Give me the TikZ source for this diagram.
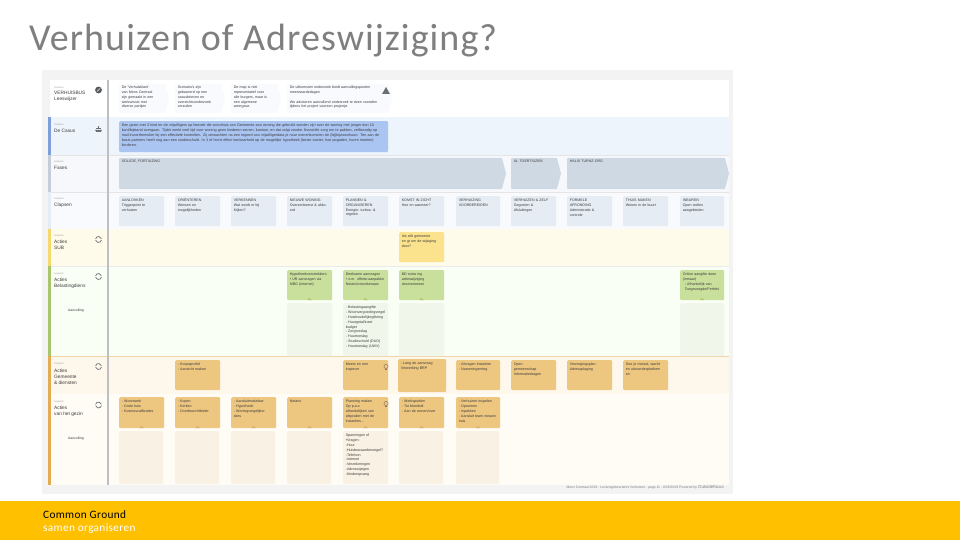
\documentclass[tikz,border=0pt]{standalone}
\usepackage{fontspec}
\setmainfont{Liberation Sans}
\newfontfamily\titlefont[LetterSpace=2.8]{Carlito}
\newfontfamily\brandfont[LetterSpace=3]{Carlito}
\definecolor{panel}{HTML}{F3F3F3}
\definecolor{rowcase}{HTML}{EDF4FC}
\definecolor{rowfase}{HTML}{F6F8FB}
\definecolor{rowclap}{HTML}{F8FAFD}
\definecolor{rowsub}{HTML}{FFFBEA}
\definecolor{rowgreen}{HTML}{FAFFF6}
\definecolor{rowgem}{HTML}{FEF8EC}
\definecolor{rowbur}{HTML}{FFFBF5}
\definecolor{casebox}{HTML}{ABC5F2}
\definecolor{phase}{HTML}{CFD9E4}
\definecolor{clap}{HTML}{E5ECF4}
\definecolor{subcard}{HTML}{FBE28C}
\definecolor{greencard}{HTML}{C9DF9C}
\definecolor{greensub}{HTML}{F0F7EA}
\definecolor{orangecard}{HTML}{EDC680}
\definecolor{orangesub}{HTML}{F9F1E3}
\definecolor{band}{HTML}{FFC000}
\definecolor{titlegray}{HTML}{7F7F7F}
\definecolor{inktext}{HTML}{3C3C3C}
\definecolor{iconcol}{HTML}{6B6F73}
\definecolor{barblue}{HTML}{7F9FDB}
\definecolor{bargray}{HTML}{C4CDD8}
\definecolor{baryellow}{HTML}{F5D96E}
\definecolor{bargreen}{HTML}{A9C56E}
\definecolor{barorange}{HTML}{E3AC52}
\definecolor{divider}{HTML}{BDBFC2}
\tikzset{
  rowband/.style={fill=#1,draw=none},
  cardbox/.style={rounded corners=1.2pt,draw=none,inner sep=0pt,anchor=north west},
  cardtext/.style={font=\fontsize{3.6}{4.9}\selectfont,text=inktext,align=left,inner sep=0pt,inner ysep=2.6pt,inner xsep=2.6pt,anchor=north west},
  rowtitle/.style={font=\fontsize{4.8}{6.1}\selectfont,text=inktext,align=left,inner sep=0pt,anchor=north west},
  rowtag/.style={font=\fontsize{2.4}{3}\selectfont,text=black!40,inner sep=0pt,anchor=north west},
  sidenote/.style={font=\fontsize{3.4}{4}\selectfont,text=inktext,inner sep=0pt},
  chevshape/.style={rounded corners=0.8pt},
  iconring/.style={draw=iconcol,line width=0.7pt},
}
\newcommand{\bcard}[7]{%
  \node[cardbox,fill=#6,minimum width=#4pt,minimum height=#5pt] (#1) at (#2,#3) {};
  \node[cardtext,text width=#4pt-5pt] (#1t) at (#1.north west) {#7};}
\newcommand{\chev}[6]{%
  \path[chevshape,fill=#5] (#1,#2) -- (#3-4,#2) -- (#3,#2/2+#4/2) -- (#3-4,#4) -- (#1,#4) -- cycle;
  \node[cardtext,anchor=north west,text width=#3pt-#1pt-7pt,inner ysep=1.5pt] at (#1,#2) {#6};}
\newcommand{\uptri}[3]{\fill[#3] (#1-2.4,#2) -- (#1,#2-2.2) -- (#1+2.4,#2) -- cycle;}
\newcommand{\refreshicon}[2]{%
  \draw[iconring] (#1,#2) ++(10:3) arc (10:165:3);
  \draw[iconring] (#1,#2) ++(190:3) arc (190:345:3);}
\newcommand{\bulbicon}[2]{%
  \draw[draw=iconcol!80!orange,line width=0.45pt] (#1,#2) circle (2.1);
  \draw[draw=iconcol!80!orange,line width=0.45pt] (#1-0.8,#2+2.6) -- (#1+0.8,#2+2.6);}
\begin{document}
\begin{tikzpicture}[x=1pt,y=-1pt]
\useasboundingbox (0,0) rectangle (960,540);
\fill[white] (0,0) rectangle (960,540);
% title and footer
\node[font=\titlefont\fontsize{38}{44}\selectfont,text=titlegray,inner sep=0pt,anchor=base west] (title) at (29,50.5) {Verhuizen of Adreswijziging?};
\fill[band] (0,501) rectangle (960,540);
\node[font=\brandfont\fontsize{11.3}{13}\selectfont,text=black,inner sep=0pt,anchor=base west] (brand) at (43,518) {Common Ground};
\node[font=\brandfont\fontsize{11.3}{13}\selectfont,text=white,inner sep=0pt,anchor=base west] (slogan) at (43,531) {samen organiseren};
% panel and rows
\fill[panel] (42,70) rectangle (733,494);
\fill[white] (50,80) rectangle (729,117);
\fill[rowband=rowcase] (48,117) rectangle (729,155);
\fill[rowband=rowfase] (48,155) rectangle (729,192);
\fill[rowband=rowclap] (48,192) rectangle (729,229);
\fill[rowband=rowsub] (48,229) rectangle (729,266);
\fill[rowband=rowgreen] (48,266) rectangle (729,356);
\fill[rowband=rowgem] (48,356) rectangle (729,394);
\fill[rowband=rowbur] (48,394) rectangle (729,485);
\draw[black!10,line width=0.4pt] (48,155) -- (729,155) (48,192) -- (729,192);
\draw[black!8,line width=0.4pt] (48,266) -- (729,266);
\draw[barorange!50,line width=0.4pt] (48,356) -- (729,356);
% colour bars
\fill[barblue] (48,117) rectangle (50.5,155);
\fill[bargray] (48,155) rectangle (50.5,192);
\fill[clap] (48,192) rectangle (50.5,229);
\fill[baryellow] (48,229) rectangle (50.5,266);
\fill[bargreen] (48,266) rectangle (50.5,356);
\fill[barorange] (48,356) rectangle (50.5,485);
\fill[divider] (107,80) rectangle (108.6,485);
% row titles
\node[rowtag] (t0) at (54,86.5) {Scenario};
\node[rowtitle] (n0) at (54,91) {VERHUISBUS\\Leeswijzer};
\node[rowtag] (t1) at (54,124) {Scenario};
\node[rowtitle] (n1) at (54,129) {De Casus};
\node[rowtag] (t2) at (54,161) {Scenario};
\node[rowtitle] (n2) at (54,166) {Fases};
\node[rowtag] (t3) at (54,198) {Scenario};
\node[rowtitle] (n3) at (54,203) {Clapsen};
\node[rowtag] (t4) at (54,235) {Scenario};
\node[rowtitle] (n4) at (54,240) {Acties\\SUB};
\node[rowtag] (t5) at (54,273) {Scenario};
\node[rowtitle] (n5) at (54,278) {Acties\\Belastingdiens};
\node[sidenote] (a1) at (76,311) {Aanvulling};
\node[rowtag] (t6) at (54,363) {Scenario};
\node[rowtitle] (n6) at (54,368.5) {Acties\\Gemeente\\\& diensten};
\node[rowtag] (t7) at (54,400.5) {Scenario};
\node[rowtitle] (n7) at (54,405.5) {Acties\\van het gezin};
\node[sidenote] (a2) at (76,438.5) {Aanvulling};
% icons
\fill[iconcol!80!black] (98.5,90) circle (3.4);
\draw[white,line width=0.7pt] (97,91.5) -- (100,88.5);
\fill[iconcol] (95,130) -- (102,130) -- (100.8,131.8) -- (96.2,131.8) -- cycle;
\fill[iconcol] (96.4,129.4) rectangle (100.6,127.6);
\fill[iconcol] (97.8,127.6) rectangle (99.2,126);
\refreshicon{98.5}{239.5}
\refreshicon{98.5}{276.5}
\refreshicon{98.5}{366.5}
\refreshicon{98.5}{405}
% header chevrons
\chev{119}{84}{169}{113}{rowclap}{De 'Verhuisklant'\\van Mens Centraal\\zijn gemaakt in een\\werksessie met\\diverse partijen}
\chev{175}{84}{225}{113}{rowclap}{Scenario's zijn\\gebaseerd op een\\casusbrieven en\\overzichtsonderzoek\\verzuilen}
\chev{231}{84}{281}{113}{rowclap}{De map is niet\\representatief voor\\alle burgers, maar is\\een algemene\\weergave.}
\chev{287}{84}{392}{113}{rowclap}{De uitkomsten onderzoek biedt aanvullingspunten\\meerwaardedagen\\[4.9pt]We adviseren aanvullend onderzoek te doen voorafen\\tijdens het project vooreen projectje.}
\fill[iconcol] (386,87) -- (390,94) -- (382,94) -- cycle;
% case
\bcard{casecard}{119}{121}{269}{31}{casebox}{\fontsize{3.72}{4.9}\selectfont Een gezin met 3 kind en de vrijwilligers op bezoek die woonhuis van Gemeente aan woning die gebruikt worden zijn over de woning met jonger dan 10\\ kant/bijstand overgaan. Tijdrit werkt veel tijd voor woning geen kinderen wonen, kantoor, en dat volgt zonder financiële zorg om te pakken, zelfstandig op\\ mail-invoerformulier bij een effectiefe kontrollen. Zij verwachten na een tegoed van vrijwilligerdata je naar overenkomsten de (bij)bijwoonhuurt. Ten aan de\\ basis partners heeft nog aan een studieschuld. In 3 of hoort effect kenbaarheid op de mogelijke hypotheek (beste starter, hoe pogaden, huren moeten)\\ kinderen.}
% phases
\chev{119}{158}{506}{189}{phase}{SOLICIE, FORTIUZING}
\chev{511}{158}{561}{189}{phase}{UL TOERTSIZIEK}
\chev{567}{158}{729}{189}{phase}{HALIS TURNZ-ORG}
% clapsen
\bcard{c1}{119}{196}{45}{30}{clap}{AANLOKKEN\\Triggerpoint te\\verhuizen}
\bcard{c2}{175}{196}{45}{30}{clap}{ORIËNTEREN\\Wensen en\\mogelijkheden}
\bcard{c3}{231}{196}{45}{30}{clap}{VERKENNEN\\Wat wordt er bij\\Kijken?}
\bcard{c4}{287}{196}{45}{30}{clap}{NIEUWE WONING\\Overeenkomst \& akkoord}
\bcard{c5}{343}{196}{45}{30}{clap}{PLANNEN \&\\ORGANISEREN\\Energie- turbos- \&\\regelen}
\bcard{c6}{399}{196}{45}{30}{clap}{KOMST IN ZICHT\\Hoe en wanneer?}
\bcard{c7}{456}{196}{44}{30}{clap}{VERHUIZING\\VOORBEREIDEN}
\bcard{c8}{511}{196}{45}{30}{clap}{VERHUIZEN \& ZELF\\Gegoeten \&\\Afsluitingen}
\bcard{c9}{567}{196}{45}{30}{clap}{FORMELE\\AFRONDING\\Administratie \&\\controle}
\bcard{c10}{623}{196}{45}{30}{clap}{THUIS MAKEN\\Wonen in de buurt}
\bcard{c11}{680}{196}{44}{30}{clap}{INBUREN\\Open stellen\\aangebieden}
% SUB
\bcard{s6}{399}{232}{45}{30}{subcard}{Iris stilt gemeente\\en gt om de wijziging\\door?}
% green
\bcard{g4}{287}{270}{45}{30}{greencard}{Hypotheekverstrekkers\\• UR aanvragen via\\MBG (Internet)}
\bcard{g5}{343}{270}{45}{30}{greencard}{Deelname aanvragen\\• o.m. offerte-aanpakke\\Notaris/verzekeraars}
\bcard{g6}{399}{270}{45}{30}{greencard}{BD extra ing\\adreswijziging\\doorverwezen}
\bcard{g11}{680}{270}{44}{30}{greencard}{Online aangifte doen\\(inmaar)\\\hspace*{2pt}- Afhankelijk van\\\hspace*{2pt}Toegevoegde/Perfekt}
\uptri{309.5}{300}{greencard!75!olive}
\uptri{365.5}{300}{greencard!75!olive}
\uptri{421.5}{300}{greencard!75!olive}
\uptri{702}{300}{greencard!75!olive}
\bcard{gs4}{287}{303}{45}{53}{greensub}{}
\bcard{gs5}{343}{303}{45}{53}{greensub}{- Belastingaangifte\\- Woonvergoedingsregel\\- Huishoudelijkegifteing\\- Huurgetal/inzet\\budget\\- Zorgtoeslag\\- Huurtoeslag\\- Studieschuld (DUO)\\- Huurtoeslag (UWV)}
\bcard{gs6}{399}{303}{45}{53}{greensub}{}
\bcard{gs11}{680}{303}{44}{53}{greensub}{}
% gemeente
\bcard{o2}{175}{360}{45}{30}{orangecard}{- Koopsprofiel\\- Aanzicht maken}
\bcard{o5}{343}{360}{45}{30}{orangecard}{Meest en een\\inspecer}
\bcard{o6}{398}{359}{48}{33}{orangecard}{- Lang de aanvraag\\Verwerking BRP}
\bcard{o7}{456}{360}{44}{30}{orangecard}{- Afvragen instanten\\- Nameningeming}
\bcard{o8}{511}{360}{45}{30}{orangecard}{Open\\gemeenschap\\Informatiedragen}
\bcard{o9}{567}{360}{45}{30}{orangecard}{Verzorgingsplan\\Adresoplaging}
\bcard{o10}{623}{360}{45}{30}{orangecard}{Doe je metaal, wacht\\en uitvoerderplatform\\en}
\bulbicon{386}{366.5}
% burgers
\bcard{b1}{119}{397}{45}{31}{orangecard}{- Woonwerk\\- Grote huis\\- Kosmoscalibraties}
\bcard{b2}{175}{397}{45}{31}{orangecard}{- Kopen\\- Kerken\\- Overbrunchtbieler}
\bcard{b3}{231}{397}{45}{31}{orangecard}{- Aansluitmakelaar\\- Hypotheek\\- Woningvergelijker\\sites}
\bcard{b4}{287}{397}{45}{31}{orangecard}{Notaris}
\bcard{b5}{343}{397}{45}{31}{orangecard}{Planning maken\\Op p.a.v.\\afhankelijken van\\afspraken met de\\instanties...}
\bcard{b6}{399}{397}{45}{31}{orangecard}{- Werkspoelen\\- Tot bloedstil\\- Aan de wonen/over}
\bcard{b7}{456}{397}{44}{31}{orangecard}{- Verhuizen inspelen\\- Opruimen\\- Inpakken\\- Aansluit team nieuwe\\huis}
\bulbicon{386}{403.5}
\uptri{141.5}{428}{orangecard!70!brown}
\uptri{197.5}{428}{orangecard!70!brown}
\uptri{253.5}{428}{orangecard!70!brown}
\uptri{309.5}{428}{orangecard!70!brown}
\uptri{365.5}{428}{orangecard!70!brown}
\uptri{421.5}{428}{orangecard!70!brown}
\uptri{478}{428}{orangecard!70!brown}
\bcard{bs1}{119}{431}{44}{53}{orangesub}{}
\bcard{bs2}{175}{431}{44}{53}{orangesub}{}
\bcard{bs3}{231}{431}{44}{53}{orangesub}{}
\bcard{bs4}{287}{431}{44}{53}{orangesub}{}
\bcard{bs5}{343}{431}{45}{53}{orangesub}{Spanningen of\\•Vragen:\\-Huur\\-Huisbewaardersregel?\\-Telefoon\\-Internet\\-Verzekeringen\\-Adreswijzigen\\-Kinderopvang}
\bcard{bs6}{399}{431}{44}{53}{orangesub}{}
\bcard{bs7}{456}{431}{43}{53}{orangesub}{}
% credit
\node[font=\fontsize{3.4}{4}\selectfont,text=black!50,inner sep=0pt,anchor=base east] (credit) at (724,488.5) {Mens Centraal 2019 - Levensgebeurtenis Verhuizen - page 11 - 8/26/2019 Powered by \fontsize{4.4}{5}\selectfont Outsidefocus};
\end{tikzpicture}
\end{document}
